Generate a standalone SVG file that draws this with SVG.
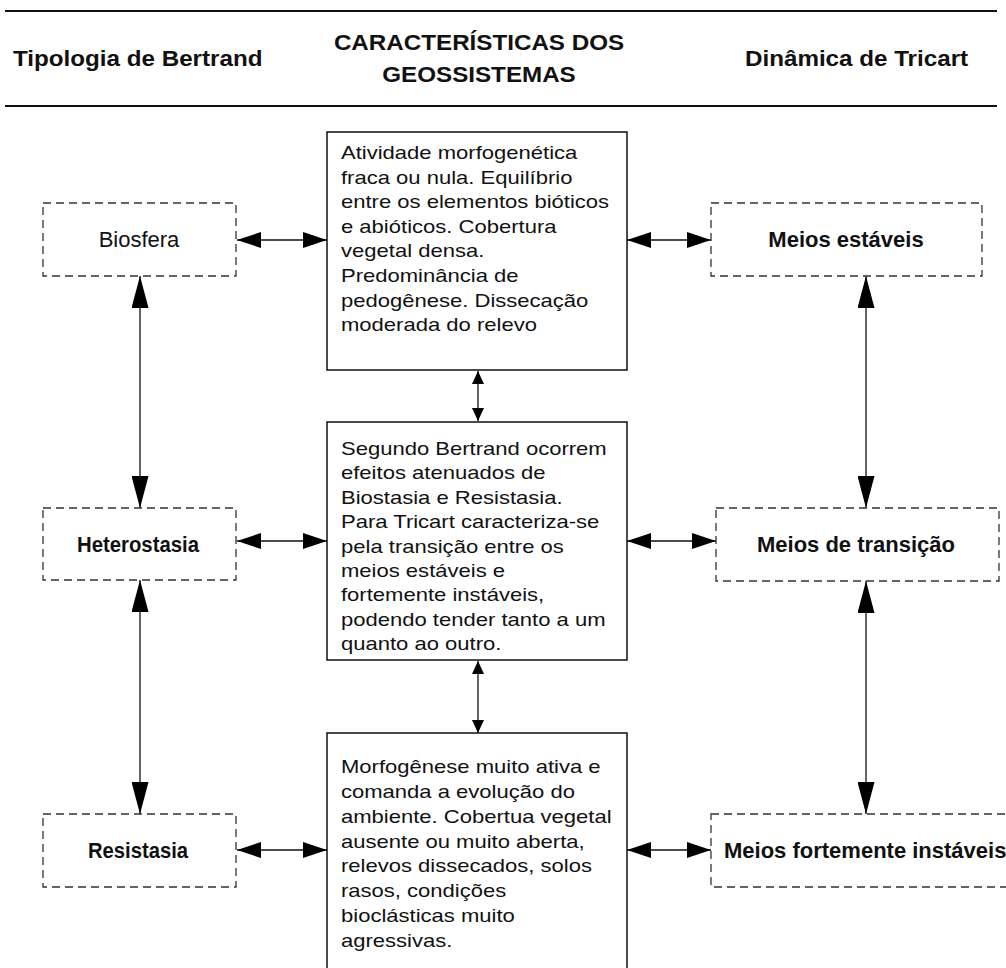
<svg xmlns="http://www.w3.org/2000/svg" width="1006" height="968" viewBox="0 0 1006 968">
<style>
  .hd { font-family: "Liberation Sans", Arial, sans-serif; font-weight: bold; font-size: 22px; fill: #111; }
  .body { font-family: "Liberation Sans", Arial, sans-serif; font-size: 19px; fill: #111; }
  .lbl { font-family: "Liberation Sans", Arial, sans-serif; font-size: 22px; fill: #111; text-anchor: middle; }
  .st { text-anchor: start; }
  .b { font-weight: bold; }
  .rule { stroke: #111; stroke-width: 2; }
  .box { fill: #fff; stroke: #111; stroke-width: 1.5; }
  .dash { fill: #fff; stroke: #333; stroke-width: 1.3; stroke-dasharray: 8 5; }
  .con { stroke: #111; stroke-width: 1.3; fill: none; }
</style>
<defs>
  <marker id="ah" viewBox="0 0 24 16" refX="24" refY="8" markerWidth="24" markerHeight="16" markerUnits="userSpaceOnUse" orient="auto-start-reverse">
    <path d="M0,0 L24,8 L0,16 z" fill="#000"/>
  </marker>
  <marker id="av" viewBox="0 0 32 17" refX="32" refY="8.5" markerWidth="32" markerHeight="17" markerUnits="userSpaceOnUse" orient="auto-start-reverse">
    <path d="M0,0 L32,8.5 L0,17 z" fill="#000"/>
  </marker>
  <marker id="as" viewBox="0 0 13 12" refX="13" refY="6" markerWidth="13" markerHeight="12" markerUnits="userSpaceOnUse" orient="auto-start-reverse">
    <path d="M0,0 L13,6 L0,12 z" fill="#000"/>
  </marker>
</defs>
<rect width="1006" height="968" fill="#fff"/>

<g id="header">
  <line class="rule" x1="5" y1="11" x2="997" y2="11"/>
  <line class="rule" x1="5" y1="106" x2="997" y2="106"/>
  <g transform="translate(13,66) scale(1.1,1)"><text class="hd" x="0" y="0">Tipologia de Bertrand</text></g>
  <g transform="translate(479,0) scale(1.1,1)">
    <text class="hd" x="0" y="50" text-anchor="middle">CARACTERÍSTICAS DOS</text>
    <text class="hd" x="0" y="82" text-anchor="middle">GEOSSISTEMAS</text>
  </g>
  <g transform="translate(745,66) scale(1.1,1)"><text class="hd" x="0" y="0">Dinâmica de Tricart</text></g>
</g>

<g id="connectors">
  <line class="con" x1="140" y1="276" x2="140" y2="508" marker-start="url(#av)" marker-end="url(#av)"/>
  <line class="con" x1="140" y1="580" x2="140" y2="814" marker-start="url(#av)" marker-end="url(#av)"/>
  <line class="con" x1="866" y1="276" x2="866" y2="508" marker-start="url(#av)" marker-end="url(#av)"/>
  <line class="con" x1="866" y1="581" x2="866" y2="814" marker-start="url(#av)" marker-end="url(#av)"/>
  <line class="con" x1="237" y1="240" x2="327" y2="240" marker-start="url(#ah)" marker-end="url(#ah)"/>
  <line class="con" x1="627" y1="240" x2="711" y2="240" marker-start="url(#ah)" marker-end="url(#ah)"/>
  <line class="con" x1="237" y1="541" x2="327" y2="541" marker-start="url(#ah)" marker-end="url(#ah)"/>
  <line class="con" x1="627" y1="541" x2="716" y2="541" marker-start="url(#ah)" marker-end="url(#ah)"/>
  <line class="con" x1="237" y1="850" x2="327" y2="850" marker-start="url(#ah)" marker-end="url(#ah)"/>
  <line class="con" x1="627" y1="850" x2="711" y2="850" marker-start="url(#ah)" marker-end="url(#ah)"/>
  <line class="con" x1="478" y1="371" x2="478" y2="421" marker-start="url(#as)" marker-end="url(#as)"/>
  <line class="con" x1="478" y1="661" x2="478" y2="733" marker-start="url(#as)" marker-end="url(#as)"/>
</g>

<g id="biosfera">
  <rect class="dash" x="43" y="203" width="193" height="73"/>
  <text class="lbl" x="139" y="247">Biosfera</text>
</g>
<g id="heterostasia">
  <rect class="dash" x="43" y="508" width="193" height="72"/>
  <text class="lbl b" x="138" y="552" textLength="122" lengthAdjust="spacingAndGlyphs">Heterostasia</text>
</g>
<g id="resistasia">
  <rect class="dash" x="43" y="814" width="193" height="73"/>
  <text class="lbl b" x="138" y="858" textLength="100" lengthAdjust="spacingAndGlyphs">Resistasia</text>
</g>
<g id="meios-estaveis">
  <rect class="dash" x="711" y="203" width="271" height="73"/>
  <text class="lbl b" x="846" y="247">Meios estáveis</text>
</g>
<g id="meios-transicao">
  <rect class="dash" x="716" y="508" width="283" height="73"/>
  <text class="lbl b" x="856" y="552">Meios de transição</text>
</g>
<g id="meios-instaveis">
  <rect class="dash" x="711" y="814" width="320" height="73"/>
  <text class="lbl b st" x="724" y="858">Meios fortemente instáveis</text>
</g>

<g id="caracteristica-biostasia">
  <rect class="box" x="327" y="132" width="300" height="238"/>
  <g transform="translate(341,0) scale(1.16,1)">
    <text class="body" x="0" y="159">Atividade morfogenética</text>
    <text class="body" x="0" y="184">fraca ou nula. Equilíbrio</text>
    <text class="body" x="0" y="208">entre os elementos bióticos</text>
    <text class="body" x="0" y="233">e abióticos. Cobertura</text>
    <text class="body" x="0" y="257">vegetal densa.</text>
    <text class="body" x="0" y="282">Predominância de</text>
    <text class="body" x="0" y="307">pedogênese. Dissecação</text>
    <text class="body" x="0" y="331">moderada do relevo</text>
  </g>
</g>
<g id="caracteristica-transicao">
  <rect class="box" x="327" y="422" width="300" height="238"/>
  <g transform="translate(341,0) scale(1.16,1)">
    <text class="body" x="0" y="455">Segundo Bertrand ocorrem</text>
    <text class="body" x="0" y="479">efeitos atenuados de</text>
    <text class="body" x="0" y="504">Biostasia e Resistasia.</text>
    <text class="body" x="0" y="528">Para Tricart caracteriza-se</text>
    <text class="body" x="0" y="553">pela transição entre os</text>
    <text class="body" x="0" y="577">meios estáveis e</text>
    <text class="body" x="0" y="601">fortemente instáveis,</text>
    <text class="body" x="0" y="626">podendo tender tanto a um</text>
    <text class="body" x="0" y="650">quanto ao outro.</text>
  </g>
</g>
<g id="caracteristica-resistasia">
  <rect class="box" x="327" y="733" width="300" height="250"/>
  <g transform="translate(341,0) scale(1.16,1)">
    <text class="body" x="0" y="773">Morfogênese muito ativa e</text>
    <text class="body" x="0" y="798">comanda a evolução do</text>
    <text class="body" x="0" y="823">ambiente. Cobertua vegetal</text>
    <text class="body" x="0" y="848">ausente ou muito aberta,</text>
    <text class="body" x="0" y="872">relevos dissecados, solos</text>
    <text class="body" x="0" y="897">rasos, condições</text>
    <text class="body" x="0" y="922">bioclásticas muito</text>
    <text class="body" x="0" y="947">agressivas.</text>
  </g>
</g>
</svg>
